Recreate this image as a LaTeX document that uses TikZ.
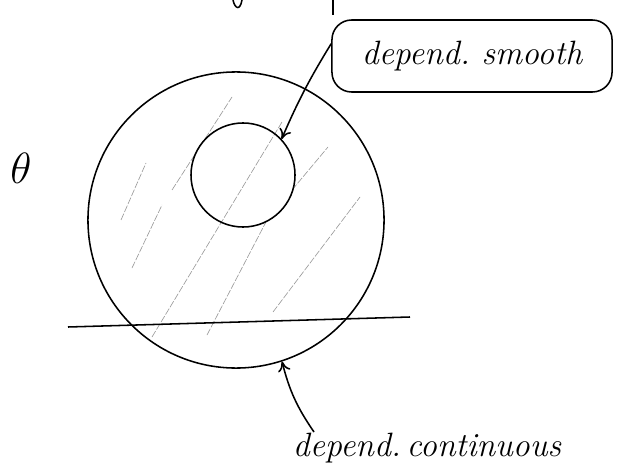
\documentclass[tikz,border=0pt]{standalone}
\usepackage{amsmath,amssymb}
\usepackage{tikz}
\usetikzlibrary{shapes,arrows,arrows.meta,positioning,fit,calc}

\tikzset{hatch/.style={gray!80, line width=0.45pt, dash pattern=on 5pt off 1.2pt}}

\begin{document}
\begin{tikzpicture}[x=0.025cm, y=-0.025cm, line width=1.1pt, >={To[length=7pt,width=9pt]},
    every node/.style={font=\fontsize{24}{28}\selectfont\itshape}]
                    \useasboundingbox (0,0) rectangle (617,472);
                    % hatching
                    \draw[hatch] (121,220) -- (146,163);
                    \draw[hatch] (132,268) -- (162,205);
                    \draw[hatch] (172,190) -- (232,97);
                    \draw[hatch] (152,337) -- (282,122);
                    \draw[hatch] (207,335) -- (267,220);
                    \draw[hatch] (273,312) -- (360,197);
                    \draw[hatch] (292,190) -- (328,147);
                    \node[draw, circle, minimum size=7.4cm] (outer) at (236,220) {};
                    \node[draw, circle, minimum size=2.6cm] (inner) at (243,175) {};
                    \draw (68,327) -- (410,317);
                    \node[scale=1.25] (theta) at (21,168) {$\theta$};
                    \node[draw, rounded corners=14pt, minimum width=7cm, minimum height=1.8cm] (smooth) at (472,56) {depend.\ smooth};
                    \node (cont) at (427,448) {depend.\,continuous};
                    \coordinate (ctail) at (314,432);
                    \draw[->] (smooth.175) to[bend right=4] (inner.43);
                    \draw[->] (ctail) to[bend left=10] (outer.-72);
                    % cut-off strokes at the top
                    \draw (233,0) .. controls (235,9) and (240,11) .. (242,0);
                    \draw (333,0) -- (333,15);
                \end{tikzpicture}
\end{document}
